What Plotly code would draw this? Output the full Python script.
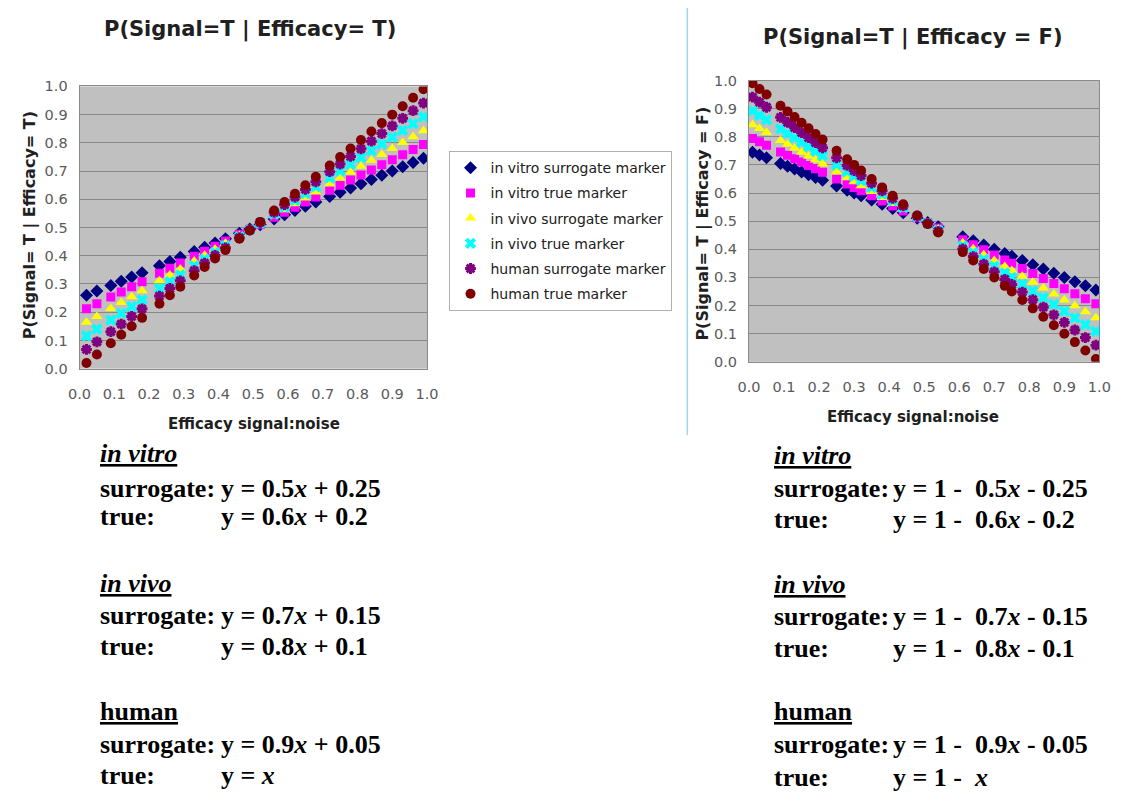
import plotly.graph_objects as go

W, H = 1129, 802

series_names = ["in vitro surrogate marker", "in vitro true marker", "in vivo surrogate marker",
                "in vivo true marker", "human surrogate marker", "human true marker"]
series_colors = ["#000080", "#ff00ff", "#ffff00", "#00ffff", "#800080", "#800000"]
series_symbols = ["diamond", "square", "triangle-up", "x", "asterisk-open", "circle"]

# ---- Left panel: P(Signal=T | Efficacy=T) ----
x_left = [0.02, 0.05, 0.09, 0.12, 0.15, 0.18, 0.23, 0.26, 0.29, 0.33, 0.36, 0.39, 0.42, 0.46, 0.49, 0.52,
          0.56, 0.59, 0.62, 0.65, 0.68, 0.72, 0.75, 0.78, 0.81, 0.84, 0.87, 0.90, 0.93, 0.96, 0.99]
vitro_sur_left = [0.26, 0.275, 0.295, 0.31, 0.325, 0.34, 0.365, 0.38, 0.395, 0.415, 0.43, 0.445, 0.46, 0.48, 0.495, 0.51,
                  0.53, 0.545, 0.56, 0.575, 0.59, 0.61, 0.625, 0.64, 0.655, 0.67, 0.685, 0.70, 0.715, 0.73, 0.745]
vitro_true_left = [0.212, 0.23, 0.254, 0.272, 0.29, 0.308, 0.338, 0.356, 0.374, 0.398, 0.416, 0.434, 0.452, 0.476, 0.494, 0.512,
                   0.536, 0.554, 0.572, 0.59, 0.608, 0.632, 0.65, 0.668, 0.686, 0.704, 0.722, 0.74, 0.758, 0.776, 0.794]
vivo_sur_left = [0.164, 0.185, 0.213, 0.234, 0.255, 0.276, 0.311, 0.332, 0.353, 0.381, 0.402, 0.423, 0.444, 0.472, 0.493, 0.514,
                 0.542, 0.563, 0.584, 0.605, 0.626, 0.654, 0.675, 0.696, 0.717, 0.738, 0.759, 0.78, 0.801, 0.822, 0.843]
vivo_true_left = [0.116, 0.14, 0.172, 0.196, 0.22, 0.244, 0.284, 0.308, 0.332, 0.364, 0.388, 0.412, 0.436, 0.468, 0.492, 0.516,
                  0.548, 0.572, 0.596, 0.62, 0.644, 0.676, 0.70, 0.724, 0.748, 0.772, 0.796, 0.82, 0.844, 0.868, 0.892]
human_sur_left = [0.068, 0.095, 0.131, 0.158, 0.185, 0.212, 0.257, 0.284, 0.311, 0.347, 0.374, 0.401, 0.428, 0.464, 0.491, 0.518,
                  0.554, 0.581, 0.608, 0.635, 0.662, 0.698, 0.725, 0.752, 0.779, 0.806, 0.833, 0.86, 0.887, 0.914, 0.941]
human_true_left = [0.02, 0.05, 0.09, 0.12, 0.15, 0.18, 0.23, 0.26, 0.29, 0.33, 0.36, 0.39, 0.42, 0.46, 0.49, 0.52,
                   0.56, 0.59, 0.62, 0.65, 0.68, 0.72, 0.75, 0.78, 0.81, 0.84, 0.87, 0.90, 0.93, 0.96, 0.99]

# ---- Right panel: P(Signal=T | Efficacy=F) ----
x_right = [0.01, 0.03, 0.05, 0.09, 0.11, 0.13, 0.15, 0.17, 0.19, 0.21, 0.25, 0.28, 0.30, 0.32, 0.35, 0.38, 0.41, 0.44,
           0.48, 0.51, 0.54, 0.61, 0.64, 0.67, 0.70, 0.73, 0.75, 0.78, 0.81, 0.84, 0.87, 0.90, 0.93, 0.96, 0.99]
vitro_sur_right = [0.745, 0.735, 0.725, 0.705, 0.695, 0.685, 0.675, 0.665, 0.655, 0.645, 0.625, 0.61, 0.60, 0.59, 0.575, 0.56,
                   0.545, 0.53, 0.51, 0.495, 0.48, 0.445, 0.43, 0.415, 0.40, 0.385, 0.375, 0.36, 0.345, 0.33, 0.315, 0.30,
                   0.285, 0.27, 0.255]
vitro_true_right = [0.794, 0.782, 0.77, 0.746, 0.734, 0.722, 0.71, 0.698, 0.686, 0.674, 0.65, 0.632, 0.62, 0.608, 0.59, 0.572,
                    0.554, 0.536, 0.512, 0.494, 0.476, 0.434, 0.416, 0.398, 0.38, 0.362, 0.35, 0.332, 0.314, 0.296, 0.278,
                    0.26, 0.242, 0.224, 0.206]
vivo_sur_right = [0.843, 0.829, 0.815, 0.787, 0.773, 0.759, 0.745, 0.731, 0.717, 0.703, 0.675, 0.654, 0.64, 0.626, 0.605, 0.584,
                  0.563, 0.542, 0.514, 0.493, 0.472, 0.423, 0.402, 0.381, 0.36, 0.339, 0.325, 0.304, 0.283, 0.262, 0.241,
                  0.22, 0.199, 0.178, 0.157]
vivo_true_right = [0.892, 0.876, 0.86, 0.828, 0.812, 0.796, 0.78, 0.764, 0.748, 0.732, 0.70, 0.676, 0.66, 0.644, 0.62, 0.596,
                   0.572, 0.548, 0.516, 0.492, 0.468, 0.412, 0.388, 0.364, 0.34, 0.316, 0.30, 0.276, 0.252, 0.228, 0.204,
                   0.18, 0.156, 0.132, 0.108]
human_sur_right = [0.941, 0.923, 0.905, 0.869, 0.851, 0.833, 0.815, 0.797, 0.779, 0.761, 0.725, 0.698, 0.68, 0.662, 0.635, 0.608,
                   0.581, 0.554, 0.518, 0.491, 0.464, 0.401, 0.374, 0.347, 0.32, 0.293, 0.275, 0.248, 0.221, 0.194, 0.167,
                   0.14, 0.113, 0.086, 0.059]
human_true_right = [0.99, 0.97, 0.95, 0.91, 0.89, 0.87, 0.85, 0.83, 0.81, 0.79, 0.75, 0.72, 0.70, 0.68, 0.65, 0.62,
                    0.59, 0.56, 0.52, 0.49, 0.46, 0.39, 0.36, 0.33, 0.30, 0.27, 0.25, 0.22, 0.19, 0.16, 0.13,
                    0.10, 0.07, 0.04, 0.01]

left_series = [vitro_sur_left, vitro_true_left, vivo_sur_left, vivo_true_left, human_sur_left, human_true_left]
right_series = [vitro_sur_right, vitro_true_right, vivo_sur_right, vivo_true_right, human_sur_right, human_true_right]

tick_vals = [0.0, 0.1, 0.2, 0.3, 0.4, 0.5, 0.6, 0.7, 0.8, 0.9, 1.0]
tick_text = ["0.0", "0.1", "0.2", "0.3", "0.4", "0.5", "0.6", "0.7", "0.8", "0.9", "1.0"]

# equation text blocks
groups = ["in vitro", "in vivo", "human"]
left_eq_sur = ["y = 0.5<i>x</i> + 0.25", "y = 0.7<i>x</i> + 0.15", "y = 0.9<i>x</i> + 0.05"]
left_eq_true = ["y = 0.6<i>x</i> + 0.2", "y = 0.8<i>x</i> + 0.1", "y = <i>x</i>"]
right_eq_sur = ["y = 1 -  0.5<i>x</i> - 0.25", "y = 1 -  0.7<i>x</i> - 0.15", "y = 1 -  0.9<i>x</i> - 0.05"]
right_eq_true = ["y = 1 -  0.6<i>x</i> - 0.2", "y = 1 -  0.8<i>x</i> - 0.1", "y = 1 -  <i>x</i>"]


def px(x):
    return x / W


def py(y):
    return 1 - y / H


def marker_style(i):
    sym = series_symbols[i]
    mk = dict(color=series_colors[i], size=10, symbol=sym, line=dict(width=0))
    if sym == "asterisk-open":
        mk["line"] = dict(color=series_colors[i], width=3)
        mk["size"] = 9
    elif sym == "square":
        mk["size"] = 9
    return mk


fig = go.Figure()

for i in range(6):
    fig.add_trace(go.Scatter(x=x_left, y=left_series[i], mode="markers", name=series_names[i],
                             marker=marker_style(i), xaxis="x", yaxis="y", legendgroup=str(i), showlegend=True))

for i in range(6):
    fig.add_trace(go.Scatter(x=x_right, y=right_series[i], mode="markers", name=series_names[i],
                             marker=marker_style(i), xaxis="x2", yaxis="y2", legendgroup=str(i), showlegend=False))

tick_font = dict(family="DejaVu Sans", size=14.5, color="#5a5a5a")
axis_common = dict(range=[0, 1], tickvals=tick_vals, ticktext=tick_text, showgrid=False, zeroline=False,
                   showline=True, linecolor="#8a8a8a", linewidth=1, mirror=True, ticks="", tickfont=tick_font)
yaxis_common = dict(range=[0, 1], tickvals=tick_vals, ticktext=tick_text, showgrid=True, gridcolor="#888888",
                    gridwidth=1, zeroline=False, showline=True, linecolor="#8a8a8a", linewidth=1, mirror=True,
                    ticks="", tickfont=tick_font)

fig.update_layout(
    autosize=True,
    margin=dict(l=0, r=0, t=0, b=0),
    paper_bgcolor="white",
    plot_bgcolor="#c0c0c0",
    xaxis=dict(domain=[px(69), px(424)], anchor="y", ticklabelstandoff=12, **axis_common),
    yaxis=dict(domain=[py(368), py(80)], anchor="x", ticklabelstandoff=8, **yaxis_common),
    xaxis2=dict(domain=[px(753), px(1111)], anchor="y2", ticklabelstandoff=12, **axis_common),
    yaxis2=dict(domain=[py(361), py(74)], anchor="x2", ticklabelstandoff=8, **yaxis_common),
    showlegend=True,
    legend=dict(x=px(447), y=py(146), xanchor="left", yanchor="top", bgcolor="white",
                bordercolor="#b0b0b0", borderwidth=1, tracegroupgap=4, itemwidth=30,
                font=dict(family="DejaVu Sans", size=14, color="#202020")),
)

ann = []
title_font = dict(family="DejaVu Sans", size=21, color="#202020")
ann.append(dict(text="<b>P(Signal=T | Efficacy= T)</b>", x=px(243), y=py(22), xref="paper", yref="paper",
                showarrow=False, xanchor="center", yanchor="middle", font=title_font))
ann.append(dict(text="<b>P(Signal=T | Efficacy = F)</b>", x=px(921), y=py(30), xref="paper", yref="paper",
                showarrow=False, xanchor="center", yanchor="middle", font=title_font))
axt_font = dict(family="DejaVu Sans", size=15, color="#202020")
ann.append(dict(text="<b>Efficacy signal:noise</b>", x=px(247), y=py(424), xref="paper", yref="paper",
                showarrow=False, xanchor="center", yanchor="middle", font=axt_font))
ann.append(dict(text="<b>Efficacy signal:noise</b>", x=px(921), y=py(417), xref="paper", yref="paper",
                showarrow=False, xanchor="center", yanchor="middle", font=axt_font))
yt_font = dict(family="DejaVu Sans", size=16, color="#202020")
ann.append(dict(text="<b>P(Signal= T | Efficacy= T)</b>", x=px(18), y=py(222), xref="paper", yref="paper",
                showarrow=False, xanchor="center", yanchor="middle", textangle=-90, font=yt_font))
ann.append(dict(text="<b>P(Signal= T | Efficacy = F)</b>", x=px(706), y=py(220), xref="paper", yref="paper",
                showarrow=False, xanchor="center", yanchor="middle", textangle=-90, font=yt_font))

eq_font = dict(family="Liberation Serif", size=26, color="black")
left_rows = [(455, 490, 519), (587, 620, 652), (718, 751, 783)]
right_rows = [(457, 490, 522), (588, 621, 654), (718, 752, 785)]
for col, (lx, ex, rows, sur, tru) in enumerate([(88, 212, left_rows, left_eq_sur, left_eq_true),
                                                 (777, 898, right_rows, right_eq_sur, right_eq_true)]):
    for g in range(3):
        hy, sy, ty = rows[g]
        head = groups[g]
        if g < 2:
            head_txt = "<b><i><u>" + head + "</u></i></b>"
        else:
            head_txt = "<b><u>" + head + "</u></b>"
        ann.append(dict(text=head_txt, x=px(lx), y=py(hy), xref="paper", yref="paper", showarrow=False,
                        xanchor="left", yanchor="middle", font=eq_font))
        ann.append(dict(text="<b>surrogate:</b>", x=px(lx), y=py(sy), xref="paper", yref="paper", showarrow=False,
                        xanchor="left", yanchor="middle", font=eq_font))
        ann.append(dict(text="<b>" + sur[g] + "</b>", x=px(ex), y=py(sy), xref="paper", yref="paper",
                        showarrow=False, xanchor="left", yanchor="middle", font=eq_font))
        ann.append(dict(text="<b>true:</b>", x=px(lx), y=py(ty), xref="paper", yref="paper", showarrow=False,
                        xanchor="left", yanchor="middle", font=eq_font))
        ann.append(dict(text="<b>" + tru[g] + "</b>", x=px(ex), y=py(ty), xref="paper", yref="paper",
                        showarrow=False, xanchor="left", yanchor="middle", font=eq_font))

fig.update_layout(annotations=ann)
fig.add_shape(type="line", xref="paper", yref="paper", x0=px(690), x1=px(690), y0=py(436), y1=1,
              line=dict(color="#9ed8e4", width=1.5))

fig.write_html(
    "out.html",
    config={"displayModeBar": False, "responsive": True},
    default_width="100vw",
    default_height="100vh",
    post_script="document.body.style.margin='0';document.body.style.overflow='hidden';"
                "Plotly.Plots.resize(document.getElementById('{plot_id}'));",
)
